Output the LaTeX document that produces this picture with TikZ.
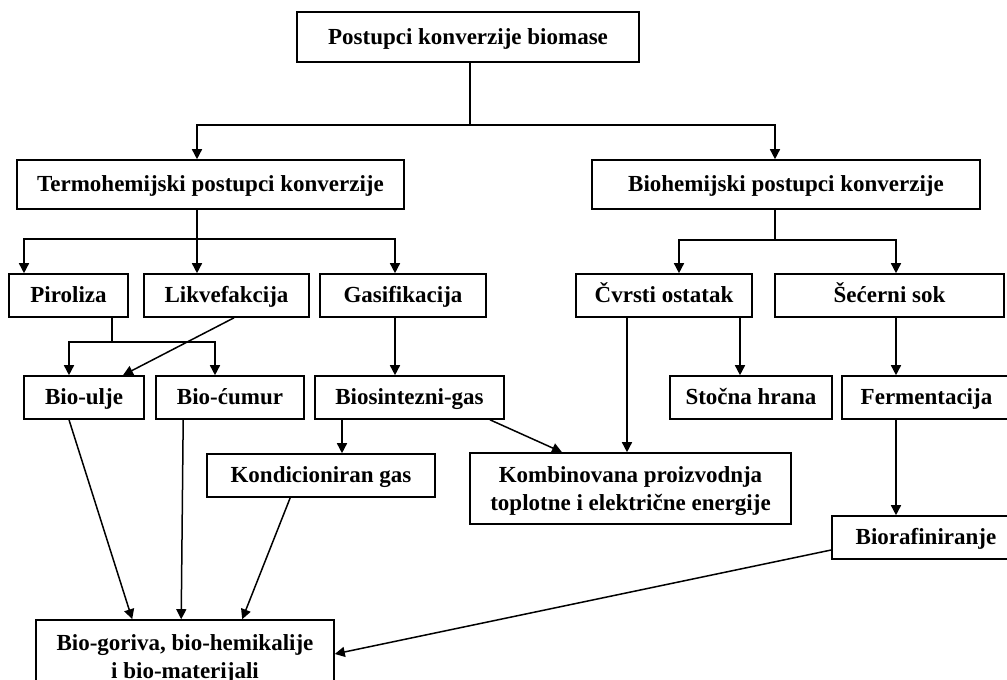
\documentclass[tikz,border=0pt]{standalone}
\usepackage{fontspec}
\setmainfont{Liberation Serif}
\usetikzlibrary{arrows.meta,calc}
\begin{document}
\begin{tikzpicture}[x=1pt,y=-1pt,
  boxbase/.style={draw, line width=1.6pt, inner sep=0pt, align=center,
    font=\bfseries\fontsize{23}{28}\selectfont},
  box/.style={boxbase, text height=17pt, text depth=3pt},
  box2/.style={boxbase},
  arr/.style={line width=1.5pt, -{Triangle[length=10pt,width=10pt]}},
  ln/.style={line width=1.5pt}]
\useasboundingbox (0,0) rectangle (1007,680);
\clip (0,0) rectangle (1007,680);
\fill[white] (0,0) rectangle (1007,680);

% nodes
\node[box, minimum width=342pt, minimum height=50pt] (top) at (468,37) {Postupci konverzije biomase};
\node[box, minimum width=387pt, minimum height=49pt] (termo) at (210.5,184.5) {Termohemijski postupci konverzije};
\node[box, minimum width=388pt, minimum height=49pt] (biohem) at (786,184.5) {Biohemijski postupci konverzije};

\node[box, minimum width=119pt, minimum height=43pt] (piroliza) at (68.5,295.5) {Piroliza};
\node[box, minimum width=165pt, minimum height=43pt] (likv) at (226.5,295.5) {Likvefakcija};
\node[box, minimum width=166pt, minimum height=43pt] (gasif) at (403,295.5) {Gasifikacija};
\node[box, minimum width=176pt, minimum height=43pt] (cvrsti) at (664,295.5) {Čvrsti ostatak};
\node[box, minimum width=229pt, minimum height=43pt] (secerni) at (889.5,295.5) {Šećerni sok};

\node[box, minimum width=120pt, minimum height=43pt] (bioulje) at (84,397.5) {Bio-ulje};
\node[box, minimum width=148pt, minimum height=43pt] (biocumur) at (230,397.5) {Bio-ćumur};
\node[box, minimum width=189pt, minimum height=43pt] (biosint) at (409.5,397.5) {Biosintezni-gas};
\node[box, minimum width=162pt, minimum height=43pt] (stocna) at (751,397.5) {Stočna hrana};
\node[box, minimum width=169pt, minimum height=43pt] (ferment) at (926.5,397.5) {Fermentacija};

\node[box, minimum width=228pt, minimum height=43pt] (kondic) at (321,475.5) {Kondicioniran gas};
\node[box2, minimum width=321pt, minimum height=71pt] (kombin) at (630.5,488.5) {\rule{0pt}{22pt}Kombinovana proizvodnja\\toplotne i električne energije};
\node[box, minimum width=188pt, minimum height=43pt] (biorafin) at (926,537.5) {Biorafiniranje};
\node[box2, minimum width=298pt, minimum height=71pt] (biogoriva) at (185,655.5) {\rule{0pt}{22pt}Bio-goriva, bio-hemikalije\\i bio-materijali};

% junction coordinates
\coordinate (j0) at (470,125);
\coordinate (t1) at (197,125);
\coordinate (t2) at (775,125);
\coordinate (k0) at (197,239);
\coordinate (k1) at (24,239);
\coordinate (k3) at (395,239);
\coordinate (p0) at (112,342);
\coordinate (p1) at (69,342);
\coordinate (p2) at (215,342);
\coordinate (b0) at (342,0);
\coordinate (h0) at (775,240);
\coordinate (h1) at (679,240);
\coordinate (h2) at (896,240);
\coordinate (c1) at (627,0);
\coordinate (c2) at (740,0);

% connectors
\draw[ln] (top.south -| j0) -- (j0);
\draw[arr] (j0) -| (termo.north -| t1);
\draw[arr] (j0) -| (biohem.north -| t2);

\draw[ln] (termo.south -| k0) -- (k0);
\draw[arr] (k0) -| (piroliza.north -| k1);
\draw[arr] (k0) -- (likv.north -| k0);
\draw[arr] (k0) -| (gasif.north -| k3);

\draw[ln] (piroliza.south -| p0) -- (p0);
\draw[arr] (p0) -| (bioulje.north -| p1);
\draw[arr] (p0) -| (biocumur.north -| p2);

\draw[arr] ($(likv.south)+(7.5,0)$) -- ($(bioulje.north)+(39,0)$);
\draw[arr] (gasif.south -| k3) -- (biosint.north -| k3);
\draw[arr] (biosint.south -| b0) -- (kondic.north -| b0);
\draw[arr] ($(biosint.south)+(80.5,0)$) -- ($(kombin.north)+(-68.5,0)$);

\draw[ln] (biohem.south -| h0) -- (h0);
\draw[arr] (h0) -| (cvrsti.north -| h1);
\draw[arr] (h0) -| (secerni.north -| h2);

\draw[arr] (cvrsti.south -| c1) -- (kombin.north -| c1);
\draw[arr] (cvrsti.south -| c2) -- (stocna.north -| c2);
\draw[arr] (secerni.south -| h2) -- (ferment.north -| h2);
\draw[arr] (ferment.south -| h2) -- (biorafin.north -| h2);

\draw[arr] (bioulje.south -| p1) -- ($(biogoriva.north west)+(97,0)$);
\draw[arr] ($(biocumur.south west)+(28,0)$) -- ($(biogoriva.north west)+(146,0)$);
\draw[arr] ($(kondic.south west)+(84,0)$) -- ($(biogoriva.north west)+(207,0)$);
\draw[arr] ($(biorafin.west)+(0,12.5)$) -- ($(biogoriva.east)+(0,-1.5)$);
\end{tikzpicture}
\end{document}
